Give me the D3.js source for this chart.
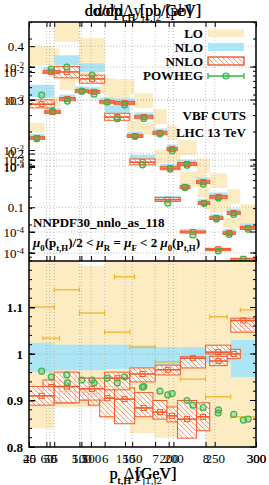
<!DOCTYPE html>
<html><head><meta charset="utf-8">
<script src="https://cdn.jsdelivr.net/npm/d3@7"></script>
<style>
html,body{margin:0;padding:0;background:#fff;}
svg{display:block;font-family:"Liberation Serif","DejaVu Serif",serif;}
</style></head><body>
<svg id="c" width="269" height="485"></svg>
<script>
// ================= DATA =================
// Group 1: dsigma/dDelta y_{j1,j2}  (linear y axis)
const dyLo = [4.5,5,5.5,6,6.5,7,7.5,8,8.5];
const dyHi = [5,5.5,6,6.5,7,7.5,8,8.5,9];
const dyNNLO   = [0.292,0.352,0.339,0.268,0.184,0.114,0.054,0.022,0.004];
const dyNNLOlo = [0.285,0.341,0.331,0.262,0.179,0.111,0.052,0.021,0.003];
const dyNNLOhi = [0.300,0.362,0.346,0.275,0.190,0.118,0.056,0.023,0.005];
const dyNLOlo  = [0.305,0.364,0.352,0.276,0.188,0.116,0.057,0.023,0.0052];
const dyNLOhi  = [0.328,0.383,0.368,0.290,0.198,0.121,0.060,0.025,0.0060];
const dyLOlo   = [0.365,0.408,0.365,0.300,0.235,0.182,0.138,0.095,0.060];
const dyLOhi   = [0.400,0.470,0.415,0.322,0.257,0.207,0.166,0.119,0.080];
const dyPW     = [0.309,0.361,0.346,0.265,0.179,0.108,0.0485,0.019,0.0032];
// ratios to NLO (lower panel)
const dyRLO      = [1.101,1.138,1.088,1.047,1.015,0.983,0.946,0.908,0.865];
const dyRLOlo    = [0.840,0.885,0.885,0.860,0.830,0.820,0.835,0.780,0.750];
const dyRLOhi    = [1.250,1.250,1.190,1.250,1.250,1.250,1.250,1.250,1.250];
const dyRNLOlo   = [0.961,0.965,0.965,0.968,0.970,0.975,0.976,0.981,0.950];
const dyRNLOhi   = [1.024,1.020,1.020,1.020,1.018,1.015,1.015,1.009,1.030];
const dyRNNLO    = [0.910,0.930,0.925,0.948,0.957,0.966,0.991,1.004,1.072];
const dyRNNLOlo  = [0.890,0.895,0.901,0.923,0.940,0.955,0.970,1.000,1.047];
const dyRNNLOhi  = [0.930,0.961,0.948,0.961,0.970,0.976,0.994,1.019,1.077];
const dyRPW      = [0.963,0.955,0.944,0.938,0.929,0.912,0.890,0.873,0.858];

// Group 2: dsigma/dp_{t,j1}  [pb/GeV]  (log axis A)
const j1Lo = [56,75,93,108,121,138,161,182,198,210,232,247,267,282];
const j1Hi = [75,93,108,121,138,161,182,198,210,232,247,267,282,300];
const j1NNLO   = [0.00883,0.00453,0.00552,0.0054,0.0042,0.0041,0.0029,0.00195,0.00131,0.000905,0.00058,0.0004,0.000269,0.000186];
const j1NNLOlo = [0.0085,0.00435,0.0053,0.0052,0.00403,0.00394,0.00278,0.00187,0.00126,0.00087,0.000557,0.000384,0.000258,0.000179];
const j1NNLOhi = [0.0092,0.0047,0.00574,0.0056,0.00437,0.00426,0.00302,0.00203,0.00136,0.00094,0.000603,0.000416,0.00028,0.000193];
const j1NLOlo  = [0.0091,0.00467,0.00569,0.00556,0.00433,0.00422,0.00299,0.00201,0.00135,0.00093,0.000597,0.000412,0.000277,0.000192];
const j1NLOhi  = [0.0099,0.00507,0.00618,0.00605,0.0047,0.00459,0.00325,0.00218,0.00147,0.00101,0.00065,0.000448,0.000301,0.000208];
const j1LOlo   = [0.011,0.00566,0.0069,0.00675,0.00525,0.00513,0.00363,0.00244,0.00164,0.00113,0.000725,0.0005,0.000336,0.000233];
const j1LOhi   = [0.0159,0.00815,0.00994,0.00972,0.00756,0.00738,0.00522,0.00351,0.00236,0.00163,0.00104,0.00072,0.000484,0.000335];
const j1PW     = [0.0095,0.0043,0.0055,0.0051,0.0042,0.0039,0.0028,0.0019,0.00125,0.00088,0.00055,0.00039,0.00026,0.00018];
const j1RLO     = [1.034,1.260,1.240,1.270,1.250,1.166,1.230,1.280,1.260,1.240,1.250,1.080,1.270,1.095];
const j1RNNLO   = [0.929,0.920,0.918,0.915,0.905,0.903,0.884,0.875,0.867,0.860,0.865,0.985,1.000,1.060];
const j1RNNLOlo = [0.895,0.895,0.901,0.890,0.865,0.850,0.865,0.860,0.854,0.819,0.835,0.975,0.990,1.050];
const j1RNNLOhi = [0.944,0.940,0.948,0.938,0.930,0.927,0.917,0.900,0.886,0.900,0.895,0.995,1.010,1.070];
const j1RPW     = [0.951,0.938,0.944,0.938,0.948,0.951,0.930,0.920,0.915,0.900,0.885,0.880,0.870,0.860];

// Group 3: dsigma/dp_{t,H}  [pb/GeV]  (log axis B)
const hLo = [25,44,144,184,208,230,244,260];
const hHi = [44,63,163,208,220,244,260,275];
const hNNLO   = [0.00266,0.00658,0.00285,0.00093,0.00048,0.000275,0.000163,0.0000966];
const hNNLOlo = [0.00253,0.00625,0.00271,0.00088,0.000456,0.000261,0.000155,0.0000918];
const hNNLOhi = [0.00279,0.00691,0.00299,0.00098,0.000504,0.000289,0.000171,0.000101];
const hNLOlo  = [0.00277,0.00684,0.00296,0.00097,0.0005,0.000286,0.00017,0.0001];
const hNLOhi  = [0.00306,0.00757,0.00328,0.00107,0.00055,0.000316,0.000187,0.000111];
const hLOlo   = [0.0032,0.0079,0.00342,0.00112,0.000576,0.00033,0.000196,0.000116];
const hLOhi   = [0.00452,0.0112,0.00485,0.00158,0.000816,0.000468,0.000277,0.000164];
const hPW     = [0.0026,0.0068,0.0028,0.0009,0.00047,0.00027,0.000158,0.000092];

// tick labels
const linTicks = [0.1,0.2,0.3,0.4];
const logTicksA = [1e-2,1e-3,1e-4];
const logTicksB = [1e-2,1e-3,1e-4];
const logTicksC = [1e-2,1e-3];
const logTicksD = [1e-2];
const ratioTicks = [0.8,0.9,1,1.1];
const ptHTicks = [25,50,100,150,200,250,300];
const ptJ1Ticks = [40,60,100,150,200,300];
const dyTicks = [5,5.5,6,7,8];
const legendNames = ["LO","NLO","NNLO","POWHEG"];

(function(){
// ================= LAYOUT =================
const L=29,R=256,T=22,M=261,B=447;
const C = {lo:"#fdebc2", nlo:"#ace5f6", nnlo:"#f35a2c", hatch:"#f7906c", pw:"#3db44e", loLine:"#f4b01c", grid:"#a8a8a8"};

const svg = d3.select("#c");
const defs = svg.append("defs");
const pat = defs.append("pattern").attr("id","hatch").attr("patternUnits","userSpaceOnUse").attr("width",5).attr("height",5);
pat.append("rect").attr("width",5).attr("height",5).attr("fill","#fff").attr("fill-opacity",0.7);
pat.append("path").attr("d","M-1,-1L6,6M-1,4L1,6M4,-1L6,1").attr("stroke",C.hatch).attr("stroke-width",0.9);
defs.append("clipPath").attr("id","clipT").append("rect").attr("x",L).attr("y",T).attr("width",R-L).attr("height",M-T);
defs.append("clipPath").attr("id","clipB").append("rect").attr("x",L).attr("y",M).attr("width",R-L).attr("height",B-M);

const xDy = d3.scaleLinear().domain([4.5,9]).range([L,R]);
const xJ1 = d3.scaleLinear().domain([40,300]).range([L,R]);
const xH  = d3.scaleLinear().domain([25,300]).range([L,R]);
const yLin = d3.scaleLinear().domain([0,0.445]).range([M,T]);
const yA = d3.scaleLog().domain([8.2e-5,0.0305]).range([M,T]);
const yB = d3.scaleLog().domain([3.64e-5,0.152]).range([M,T]);
const yC = d3.scaleLog().domain([1.026e-4,0.0336]).range([M,T]);
const yD = d3.scaleLog().domain([0.00119,0.1166]).range([M,T]);
const yR = d3.scaleLinear().domain([0.8,1.2]).range([B,M]);

const mk = (lo,hi,o) => lo.map((v,i)=>{const r={lo:v,hi:hi[i]}; for(const k in o) r[k]=o[k][i]; return r;});
const topGroups = [
  {x:xDy, y:yLin, d:mk(dyLo,dyHi,{LOlo:dyLOlo,LOhi:dyLOhi,NLOlo:dyNLOlo,NLOhi:dyNLOhi,Nlo:dyNNLOlo,Nhi:dyNNLOhi,N:dyNNLO,PW:dyPW})},
  {x:xJ1, y:yA, d:mk(j1Lo,j1Hi,{LOlo:j1LOlo,LOhi:j1LOhi,NLOlo:j1NLOlo,NLOhi:j1NLOhi,Nlo:j1NNLOlo,Nhi:j1NNLOhi,N:j1NNLO,PW:j1PW})},
  {x:xH, y:yB, d:mk(hLo,hHi,{LOlo:hLOlo,LOhi:hLOhi,NLOlo:hNLOlo,NLOhi:hNLOhi,Nlo:hNNLOlo,Nhi:hNNLOhi,N:hNNLO,PW:hPW})}
];
const botG1 = mk(dyLo,dyHi,{RLO:dyRLO,LOlo:dyRLOlo,LOhi:dyRLOhi,NLOlo:dyRNLOlo,NLOhi:dyRNLOhi,N:dyRNNLO,Nlo:dyRNNLOlo,Nhi:dyRNNLOhi,PW:dyRPW});
const botG2 = mk(j1Lo,j1Hi,{RLO:j1RLO,N:j1RNNLO,Nlo:j1RNNLOlo,Nhi:j1RNNLOhi,PW:j1RPW});

function vgrid(g, x, ticks, y0, y1){
  g.append("g").selectAll("line").data(ticks).join("line").attr("x1",d=>x(d)).attr("x2",d=>x(d)).attr("y1",y0).attr("y2",y1)
   .attr("stroke",C.grid).attr("stroke-width",0.7).attr("stroke-dasharray","1,2");
}
function hgrid(g, y, ticks){
  g.append("g").selectAll("line").data(ticks).join("line").attr("x1",L).attr("x2",R).attr("y1",d=>y(d)).attr("y2",d=>y(d))
   .attr("stroke",C.grid).attr("stroke-width",0.7).attr("stroke-dasharray","1,2");
}

// ================= TOP PANEL =================
const topP = svg.append("g").attr("clip-path","url(#clipT)");
topGroups.forEach(G=>{
  topP.append("g").selectAll("rect").data(G.d).join("rect")
    .attr("x",d=>G.x(d.lo)).attr("width",d=>G.x(d.hi)-G.x(d.lo))
    .attr("y",d=>G.y(d.LOhi)).attr("height",d=>G.y(d.LOlo)-G.y(d.LOhi)).attr("fill",C.lo);
});
topGroups.forEach(G=>{
  topP.append("g").selectAll("rect").data(G.d).join("rect")
    .attr("x",d=>G.x(d.lo)).attr("width",d=>G.x(d.hi)-G.x(d.lo))
    .attr("y",d=>G.y(d.NLOhi)).attr("height",d=>Math.max(1,G.y(d.NLOlo)-G.y(d.NLOhi))).attr("fill",C.nlo);
});
const gridT = topP.append("g");
vgrid(gridT,xH,ptHTicks,T,M); vgrid(gridT,xJ1,ptJ1Ticks,T,M); vgrid(gridT,xDy,dyTicks,T,M);
hgrid(gridT,yLin,linTicks); hgrid(gridT,yA,logTicksA); hgrid(gridT,yB,logTicksB);

function nnlo(g, G, y){
  const s = g.append("g");
  s.append("g").selectAll("rect").data(G.d).join("rect")
    .attr("x",d=>G.x(d.lo)).attr("width",d=>G.x(d.hi)-G.x(d.lo))
    .attr("y",d=>y(d.Nhi)).attr("height",d=>Math.max(2,y(d.Nlo)-y(d.Nhi)))
    .attr("fill","url(#hatch)").attr("stroke",C.nnlo).attr("stroke-width",1);
  s.append("g").selectAll("line").data(G.d).join("line")
    .attr("x1",d=>G.x(d.lo)).attr("x2",d=>G.x(d.hi)).attr("y1",d=>y(d.N)).attr("y2",d=>y(d.N))
    .attr("stroke",C.nnlo).attr("stroke-width",1.6);
  s.append("g").selectAll("rect").data(G.d).join("rect")
    .attr("x",d=>(G.x(d.lo)+G.x(d.hi))/2-2.5).attr("y",d=>y(d.N)-2.5).attr("width",5).attr("height",5)
    .attr("fill","none").attr("stroke",C.nnlo).attr("stroke-width",1);
}
function pw(g, G, y){
  g.append("g").selectAll("circle").data(G.d).join("circle")
    .attr("cx",d=>(G.x(d.lo)+G.x(d.hi))/2).attr("cy",d=>y(d.PW)).attr("r",3)
    .attr("fill","rgba(61,180,78,0.3)").attr("stroke",C.pw).attr("stroke-width",1.2);
}
topGroups.forEach(G=>nnlo(topP,G,G.y));
topGroups.forEach(G=>pw(topP,G,G.y));

// ================= BOTTOM PANEL =================
const botP = svg.append("g").attr("clip-path","url(#clipB)");
botP.append("g").selectAll("rect").data(botG1).join("rect")
  .attr("x",d=>xDy(d.lo)).attr("width",d=>xDy(d.hi)-xDy(d.lo))
  .attr("y",d=>yR(d.LOhi)).attr("height",d=>yR(d.LOlo)-yR(d.LOhi)).attr("fill",C.lo);
botP.append("g").selectAll("rect").data(botG1).join("rect")
  .attr("x",d=>xDy(d.lo)).attr("width",d=>xDy(d.hi)-xDy(d.lo))
  .attr("y",d=>yR(d.NLOhi)).attr("height",d=>yR(d.NLOlo)-yR(d.NLOhi)).attr("fill",C.nlo);
const gridB = botP.append("g");
vgrid(gridB,xH,ptHTicks,M,B); vgrid(gridB,xJ1,ptJ1Ticks,M,B); vgrid(gridB,xDy,dyTicks,M,B);
hgrid(gridB,yR,[1]);
[[botG1,xDy],[botG2,xJ1]].forEach(([D,x])=>{
  const s = botP.append("g");
  s.append("g").selectAll("line").data(D).join("line")
    .attr("x1",d=>x(d.lo)).attr("x2",d=>x(d.hi)).attr("y1",d=>yR(d.RLO)).attr("y2",d=>yR(d.RLO))
    .attr("stroke",C.loLine).attr("stroke-width",1.2);
  s.append("g").selectAll("path").data(D).join("path")
    .attr("d",d=>`M${x(d.lo)},${yR(d.RLO)-2.5}v5M${x(d.hi)},${yR(d.RLO)-2.5}v5`)
    .attr("stroke",C.loLine).attr("stroke-width",1);
});
nnlo(botP,{x:xJ1,d:botG2},yR);
nnlo(botP,{x:xDy,d:botG1},yR);
pw(botP,{x:xJ1,d:botG2},yR);
pw(botP,{x:xDy,d:botG1},yR);

// ================= AXES =================
const font = (sel,size,weight)=>sel.selectAll("text").attr("font-family","Liberation Serif, serif").attr("font-size",size).attr("font-weight",weight||"normal").attr("fill","#000");
function styleAxis(g){ g.select(".domain").remove(); g.selectAll("line").attr("stroke","#000").attr("stroke-width",1); }
function supLabels(g){
  g.selectAll("text").each(function(d){
    const t=d3.select(this); const e=Math.round(Math.log10(d));
    t.text(null); t.append("tspan").text("10");
    t.append("tspan").attr("dy","-0.45em").attr("font-size",9).text(String(e));
  });
}
function leftLog(y,ticks){
  const g=svg.append("g").attr("transform",`translate(${L},0)`)
    .call(d3.axisLeft(y).tickValues(ticks).tickSize(-6).tickPadding(5).tickFormat(d=>d));
  styleAxis(g); font(g,13); supLabels(g);
}
let ga = svg.append("g").attr("transform",`translate(${L},0)`)
  .call(d3.axisLeft(yLin).tickValues(linTicks).tickSize(-6).tickPadding(5).tickFormat(d=>String(d)));
styleAxis(ga); font(ga,13);
leftLog(yA,logTicksA); leftLog(yB,logTicksB); leftLog(yC,logTicksC); leftLog(yD,logTicksD);
const minorA = yA.ticks().filter(v=>yA(v)>=T && yA(v)<=M);
[[L,1],[R,-1]].forEach(([x0,s])=>{
  svg.append("g").selectAll("line").data(minorA).join("line")
    .attr("x1",x0).attr("x2",x0+s*3).attr("y1",d=>yA(d)).attr("y2",d=>yA(d)).attr("stroke","#000").attr("stroke-width",1);
  svg.append("g").selectAll("line").data(logTicksB).join("line")
    .attr("x1",x0).attr("x2",x0+s*6).attr("y1",d=>yB(d)).attr("y2",d=>yB(d)).attr("stroke","#000").attr("stroke-width",1);
  svg.append("g").selectAll("line").data(logTicksA).join("line")
    .attr("x1",x0).attr("x2",x0+s*6).attr("y1",d=>yA(d)).attr("y2",d=>yA(d)).attr("stroke","#000").attr("stroke-width",1);
});
ga = svg.append("g").attr("transform",`translate(${L},0)`)
  .call(d3.axisLeft(yR).tickValues(ratioTicks).tickSize(-6).tickPadding(6).tickFormat(d=>String(d)));
styleAxis(ga); font(ga,13,"bold");
const minorR = yR.ticks(20);
[[L,1],[R,-1]].forEach(([x0,s])=>{
  svg.append("g").selectAll("line").data(minorR).join("line")
    .attr("x1",x0).attr("x2",x0+s*3).attr("y1",d=>yR(d)).attr("y2",d=>yR(d)).attr("stroke","#000");
  svg.append("g").selectAll("line").data(ratioTicks).join("line")
    .attr("x1",x0).attr("x2",x0+s*6).attr("y1",d=>yR(d)).attr("y2",d=>yR(d)).attr("stroke","#000");
});
[[xH,ptHTicks],[xJ1,ptJ1Ticks],[xDy,dyTicks]].forEach(([x,t])=>{
  const g=svg.append("g").attr("transform",`translate(0,${B})`)
    .call(d3.axisBottom(x).tickValues(t).tickSize(-5).tickPadding(7).tickFormat(d=>String(d)));
  styleAxis(g); font(g,13);
  const g2=svg.append("g").attr("transform",`translate(0,${T})`)
    .call(d3.axisBottom(x).tickValues(t).tickSize(5).tickFormat(""));
  styleAxis(g2); g2.selectAll("text").remove();
  const g3=svg.append("g").attr("transform",`translate(0,${M})`)
    .call(d3.axisTop(x).tickValues(t).tickSize(5).tickFormat(""));
  styleAxis(g3); g3.selectAll("text").remove();
});
svg.append("rect").attr("x",L).attr("y",T).attr("width",R-L).attr("height",B-T).attr("fill","none").attr("stroke","#000").attr("stroke-width",1.5);
svg.append("line").attr("x1",L).attr("x2",R).attr("y1",M).attr("y2",M).attr("stroke","#000").attr("stroke-width",1.5);

// ================= TEXT =================
function rich(parts, x, y, size, anchor, weight){
  const t=svg.append("text").attr("x",x).attr("y",y).attr("font-size",size).attr("text-anchor",anchor||"start")
    .attr("font-weight",weight||"normal").attr("font-family","Liberation Serif, serif");
  let back = 0;
  parts.forEach(p=>{
    const s=t.append("tspan");
    if(typeof p==="string"){ s.text(p); if(back){ s.attr("dy",-back); back=0; } return; }
    s.text(p.t);
    if(p.sub){ const dd=size*0.3; s.attr("font-size",size*0.68).attr("dy",dd-back); back=dd; }
    else if(back){ s.attr("dy",-back); back=0; }
    if(p.it) s.attr("font-style","italic");
  });
  return t;
}
rich(["dσ/dp",{t:"t,H",sub:1}," [pb/GeV]"],143,16,16,"middle");
rich(["dσ/dp",{t:"t,j1",sub:1}," [pb/GeV]"],143,16,16,"middle");
rich(["dσ/dΔy",{t:"j1,j2",sub:1}," [pb]"],143,16,16,"middle");
rich(["p",{t:"t,H",sub:1}," [GeV]"],143,479,16,"middle");
rich(["p",{t:"t,j1",sub:1}," [GeV]"],143,479,16,"middle");
rich(["Δy",{t:"j1,j2",sub:1}],143,479,16,"middle");

const legY=[33,47,61,75];
legendNames.forEach((n,i)=>rich([n],203,legY[i]+4.5,13,"end","bold"));
svg.append("rect").attr("x",208).attr("y",29.5).attr("width",36).attr("height",7.5).attr("fill",C.lo);
svg.append("rect").attr("x",208).attr("y",43).attr("width",36).attr("height",8).attr("fill",C.nlo);
svg.append("rect").attr("x",208).attr("y",57).attr("width",36).attr("height",8).attr("fill","url(#hatch)").attr("stroke",C.nnlo).attr("stroke-width",1.4);
svg.append("path").attr("d","M208,76H244M208,73v6M244,73v6").attr("stroke",C.pw).attr("stroke-width",1.4).attr("fill","none");
svg.append("circle").attr("cx",226).attr("cy",76).attr("r",3).attr("fill","rgba(61,180,78,0.3)").attr("stroke",C.pw).attr("stroke-width",1.2);

rich(["VBF CUTS"],246,120,13,"end","bold");
rich(["LHC 13 TeV"],246,137,13,"end","bold");
rich(["NNPDF30_nnlo_as_118"],33,227,13,"start","bold");
rich([{t:"μ",it:1},{t:"0",sub:1},"(p",{t:"t,H",sub:1},")/2 < ",{t:"μ",it:1},{t:"R",sub:1}," = ",{t:"μ",it:1},{t:"F",sub:1}," < 2 ",{t:"μ",it:1},{t:"0",sub:1},"(p",{t:"t,H",sub:1},")"],33,247,13,"start","bold");
})();
</script>
</body></html>
